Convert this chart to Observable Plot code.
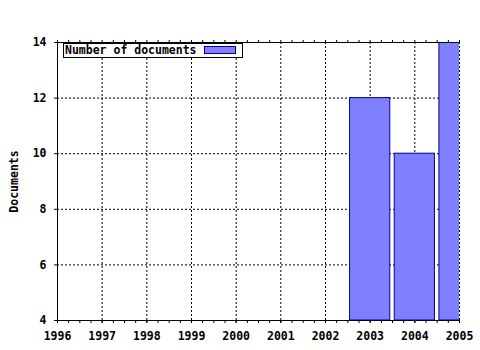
<!DOCTYPE html>
<html><head><meta charset="utf-8">
<script src="https://cdn.jsdelivr.net/npm/d3@7"></script>
<script src="https://cdn.jsdelivr.net/npm/@observablehq/plot@0.6"></script>
<style>
body{margin:0;background:#fff;}
#wrap{position:relative;width:480px;height:350px;}
#legend{position:absolute;left:63px;top:43px;width:178px;height:13px;border:1px solid #000;background:#fff;
 font:bold 11.5px "DejaVu Sans Mono",monospace;line-height:13px;color:#000;}
#legend span.t{position:absolute;left:1px;top:0;}
#legend span.s{position:absolute;left:140px;top:2px;width:30px;height:6px;background:#8080ff;border:1px solid #000099;}
</style></head>
<body><div id="wrap"><div id="legend"><span class="t">Number of documents</span><span class="s"></span></div></div>
<script>
const years = [2003, 2004, 2005];
const documents = [12, 10, 14];
const xTicks = [1996, 1997, 1998, 1999, 2000, 2001, 2002, 2003, 2004, 2005];
const yTicks = [4, 6, 8, 10, 12, 14];
const seriesName = "Number of documents";
const yLabel = "Documents";

const data = years.map((y, i) => ({year: y, docs: documents[i]}));
const minorTicks = d3.range(0, (xTicks.length - 1) * 4 + 1).map(i => xTicks[0] + i / 4);
const x0 = xTicks[0], x1 = xTicks[xTicks.length - 1];
const y0 = yTicks[0], y1 = yTicks[yTicks.length - 1];

const chart = Plot.plot({
  width: 480, height: 350,
  marginLeft: 57, marginRight: 21, marginTop: 42, marginBottom: 30,
  style: {fontFamily: "'DejaVu Sans Mono', monospace", fontSize: "11.5px", fontWeight: "bold", background: "#fff", color: "#000"},
  x: {domain: [x0, x1]},
  y: {domain: [y0, y1]},
  marks: [
    Plot.gridX(xTicks, {stroke: "#000", strokeOpacity: 1, strokeDasharray: "2,2"}),
    Plot.gridY(yTicks, {stroke: "#000", strokeOpacity: 1, strokeDasharray: "2,2"}),
    Plot.rect(data, {x1: d => d.year - 0.45, x2: d => d.year + 0.45, y1: d => y0, y2: d => d.docs,
      fill: "#8080ff", stroke: "#000099", strokeWidth: 1, clip: true}),
    Plot.ruleY([y0, y1], {stroke: "#000"}),
    Plot.ruleX([x0], {stroke: "#000"}),
    Plot.axisX(minorTicks, {anchor: "bottom", tickSize: 3, tickFormat: () => "", label: null}),
    Plot.axisX(minorTicks, {anchor: "top", tickSize: 3, tickFormat: () => "", label: null}),
    Plot.axisX(xTicks, {anchor: "bottom", tickSize: 3, tickPadding: 8, tickFormat: d => String(d), label: null}),
    Plot.axisY(yTicks, {anchor: "left", tickSize: 3, tickPadding: 8, label: yLabel, labelAnchor: "center", labelOffset: 48, labelArrow: "none"})
  ]
});
document.getElementById("wrap").prepend(chart);
</script></body></html>
